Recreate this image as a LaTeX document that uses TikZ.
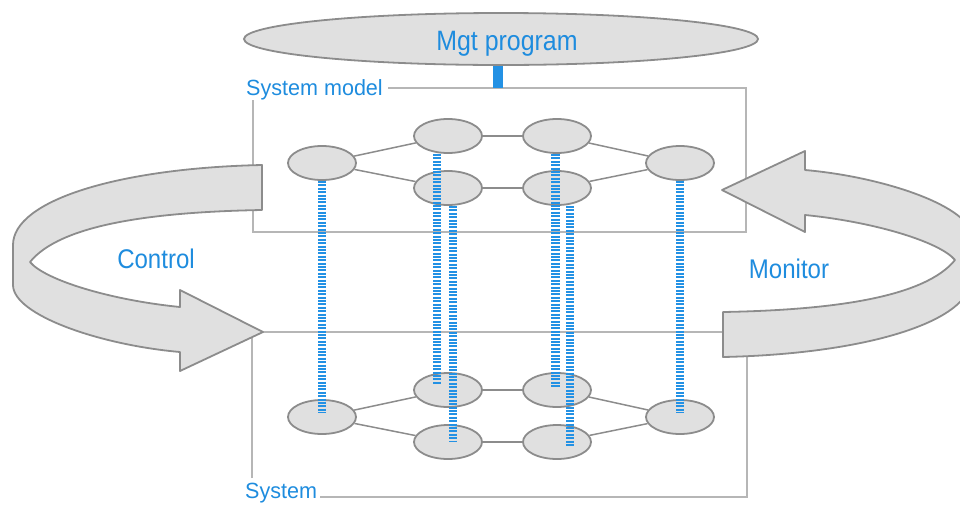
\documentclass[tikz,border=0pt]{standalone}
\usepackage{fontspec}
\usetikzlibrary{shapes.geometric}
\newfontfamily\bigsans[FakeStretch=0.89]{Liberation Sans}
\newfontfamily\smallsans[FakeStretch=0.98]{Liberation Sans}
\definecolor{labelblue}{RGB}{30,140,222}
\definecolor{linkblue}{RGB}{35,145,228}
\definecolor{shapefill}{RGB}{224,224,224}
\definecolor{outline}{RGB}{140,140,140}
\definecolor{frameline}{RGB}{182,182,182}

\tikzset{
  state/.style={ellipse, draw=outline, fill=shapefill, line width=1.8pt,
    minimum width=68pt, minimum height=34pt, inner sep=0pt},
  edge/.style={draw=outline, line width=1.5pt},
  frame/.style={draw=frameline, line width=1.5pt},
  link/.style={draw=linkblue, line width=8.5pt, dash pattern=on 2.1pt off 1.3pt},
  ribbonline/.style={draw=outline, fill=shapefill, line width=1.8pt, line join=round},
  biglabel/.style={text=labelblue, font=\bigsans\fontsize{27}{30}\selectfont, inner sep=0pt},
  smalllabel/.style={text=labelblue, font=\smallsans\fontsize{22}{24}\selectfont, inner sep=0pt},
  % curved band ending in an arrowhead; tail at the upper right
  ribbon/.pic={
    \path[ribbonline] (262,165) .. controls (120,168) and (13,200) .. (13,245)
      -- (13,285) .. controls (13,315) and (100,345) .. (180,352)
      -- (180,371) -- (263,332) -- (180,290) -- (180,307)
      .. controls (110,300) and (45,280) .. (30,262)
      .. controls (60,225) and (150,212) .. (262,210) -- cycle;
  }
}

\begin{document}
\begin{tikzpicture}[x=1pt, y=-1pt]
  \useasboundingbox (0,0) rectangle (960,504);
  \clip (0,0) rectangle (960,504);

  % frames of the model layer and the system layer
  \coordinate (smtop) at (498,88);
  \path[frame] (388,88) -- (746,88) -- (746,232) -- (253,232) -- (253,100);
  \path[frame] (252,478) -- (252,332) -- (747,332) -- (747,497) -- (320,497);
  \node[smalllabel, anchor=base west] (smlabel) at (246,95) {System model};
  \node[smalllabel, anchor=base west] (syslabel) at (245,498) {System};

  % management program on top
  \node[ellipse, draw=outline, fill=shapefill, line width=1.8pt,
        minimum width=514pt, minimum height=52pt, inner sep=0pt] (mgt) at (501,39) {};
  \node[biglabel, font=\bigsans\fontsize{28}{30}\selectfont, anchor=base] (mgttext) at (507,50) {Mgt program};
  \draw[linkblue, line width=10pt] ([xshift=-3pt]mgt.south) -- (smtop);

  % control and monitor bands
  \pic at (0,0) {ribbon};
  \pic[rotate=180] at (985,522) {ribbon};
  \node[biglabel, anchor=base] (ctl) at (156,268) {Control};
  \node[biglabel, anchor=base] (mon) at (789,278) {Monitor};

  % model graph
  \node[state] (N1) at (322,163) {};
  \node[state] (N2) at (448,136) {};
  \node[state] (N3) at (557,136) {};
  \node[state] (N4) at (680,163) {};
  \node[state] (N5) at (448,188) {};
  \node[state] (N6) at (557,188) {};
  % system graph
  \node[state] (L1) at (322,417) {};
  \node[state] (L2) at (448,390) {};
  \node[state] (L3) at (557,390) {};
  \node[state] (L4) at (680,417) {};
  \node[state] (L5) at (448,442) {};
  \node[state] (L6) at (557,442) {};

  \foreach \a/\b in {N1/N2, N1/N5, N2/N3, N5/N6, N3/N4, N6/N4,
                     L1/L2, L1/L5, L2/L3, L5/L6, L3/L4, L6/L4}
    \path[edge] (\a) -- (\b);

  % correspondences between model and system
  \path[link] (N1.south) -- ([yshift=4pt]L1.center);
  \path[link] ([xshift=-11pt]N2.south) -- ([xshift=-11pt,yshift=5pt]L2.center);
  \path[link] ([xshift=5pt]N5.south) -- ([xshift=5pt]L5.center);
  \path[link] ([xshift=-1.5pt]N3.south) -- ([xshift=-1.5pt,yshift=3pt]L3.center);
  \path[link] ([xshift=13pt]N6.south) -- ([xshift=13pt,yshift=-5pt]L6.center);
  \path[link] (N4.south) -- ([yshift=4pt]L4.center);
\end{tikzpicture}
\end{document}
